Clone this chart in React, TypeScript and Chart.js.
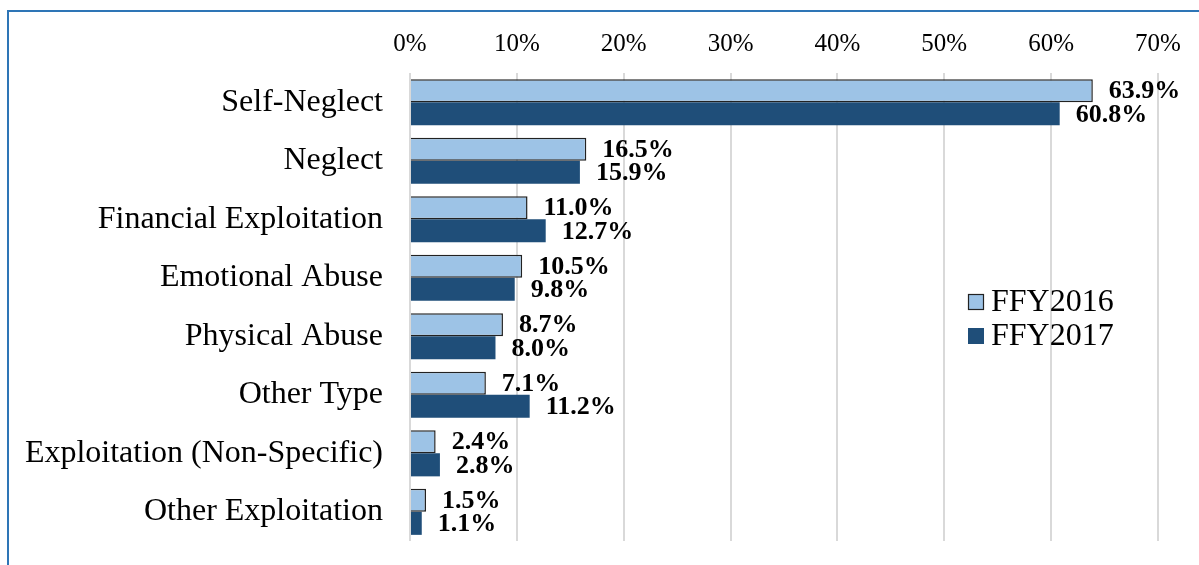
import React, { useEffect, useRef } from "react";
import { Chart, registerables } from "chart.js";

Chart.register(...registerables);

const categories = [
  "Self-Neglect",
  "Neglect",
  "Financial Exploitation",
  "Emotional Abuse",
  "Physical Abuse",
  "Other Type",
  "Exploitation (Non-Specific)",
  "Other Exploitation",
];
const ffy2016 = [63.9, 16.5, 11.0, 10.5, 8.7, 7.1, 2.4, 1.5];
const ffy2017 = [60.8, 15.9, 12.7, 9.8, 8.0, 11.2, 2.8, 1.1];
const seriesNames = ["FFY2016", "FFY2017"];
const xTicks = [0, 10, 20, 30, 40, 50, 60, 70];

const LIGHT = "#9DC3E6";
const DARK = "#1F4E79";
const SERIF = '"Liberation Serif", "Times New Roman", serif';

const labelPlugin = {
  id: "barLabels",
  afterDatasetsDraw(chart: any) {
    const ctx = chart.ctx;
    ctx.save();
    ctx.font = `bold 26px ${SERIF}`;
    ctx.fillStyle = "#000";
    ctx.textAlign = "left";
    ctx.textBaseline = "middle";
    chart.data.datasets.forEach((ds: any, di: number) => {
      const meta = chart.getDatasetMeta(di);
      meta.data.forEach((bar: any, i: number) => {
        const v = ds.data[i];
        ctx.fillText(v.toFixed(1) + "%", bar.x + 16, bar.y + 1);
      });
    });
    ctx.restore();
  },
};

const legendPlugin = {
  id: "customLegend",
  afterDraw(chart: any) {
    const ctx = chart.ctx;
    ctx.save();
    const x = 968;
    const ys = [302, 336];
    const cols = [LIGHT, DARK];
    ctx.font = `32px ${SERIF}`;
    ctx.textAlign = "left";
    ctx.textBaseline = "middle";
    seriesNames.forEach((name, i) => {
      const y = ys[i];
      ctx.fillStyle = cols[i];
      ctx.fillRect(x, y - 8, 16, 16);
      if (i === 0) {
        ctx.strokeStyle = "#222";
        ctx.lineWidth = 1.2;
        ctx.strokeRect(x + 0.5, y - 7.5, 15, 15);
      }
      ctx.fillStyle = "#000";
      ctx.fillText(name, x + 23, y + 1);
    });
    ctx.restore();
  },
};

export default function App() {
  const ref = useRef<HTMLCanvasElement>(null);
  useEffect(() => {
    document.body.style.overflow = "hidden";
    const chart = new Chart(ref.current!, {
      type: "bar",
      data: {
        labels: categories,
        datasets: [
          {
            label: seriesNames[0],
            data: ffy2016,
            backgroundColor: LIGHT,
            borderColor: "#222",
            borderWidth: 1.5,
            categoryPercentage: 0.79,
            barPercentage: 1,
          },
          {
            label: seriesNames[1],
            data: ffy2017,
            backgroundColor: DARK,
            borderWidth: 0,
            categoryPercentage: 0.79,
            barPercentage: 1,
          },
        ],
      },
      options: {
        indexAxis: "y",
        animation: false,
        responsive: false,
        maintainAspectRatio: false,
        layout: { padding: { left: 0, right: 41, top: 0, bottom: 24 } },
        plugins: {
          legend: { display: false },
          tooltip: { enabled: false },
        },
        scales: {
          x: {
            position: "top",
            min: 0,
            max: 70,
            afterBuildTicks(scale: any) {
              scale.ticks = xTicks.map((v) => ({ value: v }));
            },
            afterFit(scale: any) {
              scale.height = 73;
            },
            grid: { color: "#D9D9D9", lineWidth: 2, drawTicks: false },
            border: { display: false },
            ticks: {
              padding: 14,
              color: "#000",
              font: { family: SERIF, size: 25 },
              callback: (v: any) => v + "%",
            },
          },
          y: {
            afterFit(scale: any) {
              scale.width = 410;
              scale.paddingTop = 0;
              scale.paddingBottom = 0;
            },
            grid: { display: false },
            border: { display: false },
            ticks: {
              padding: 19,
              color: "#000",
              font: { family: SERIF, size: 32 },
            },
          },
        },
      },
      plugins: [labelPlugin, legendPlugin],
    });
    return () => chart.destroy();
  }, []);
  return (
    <div>
      <canvas
        ref={ref}
        width={1199}
        height={565}
        style={{ position: "fixed", left: 0, top: 0, width: 1199, height: 565 }}
      />
      <div
        style={{
          position: "fixed",
          left: 7,
          top: 10,
          width: 1300,
          height: 700,
          border: "2px solid #2E75B6",
          pointerEvents: "none",
        }}
      />
    </div>
  );
}
